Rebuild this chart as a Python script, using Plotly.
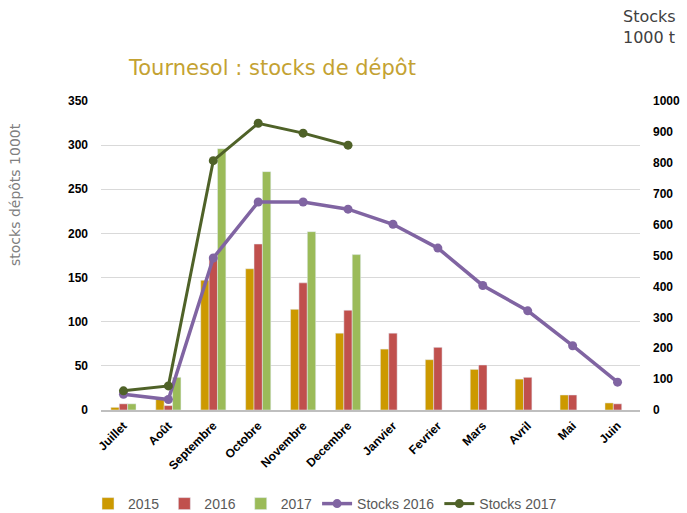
import plotly.graph_objects as go

months = ["Juillet", "Août", "Septembre", "Octobre", "Novembre", "Decembre",
          "Janvier", "Fevrier", "Mars", "Avril", "Mai", "Juin"]
v2015 = [3, 12, 147, 160, 114, 87, 69, 57, 46, 35, 17, 8]
v2016 = [7, 5, 172, 188, 144, 113, 87, 71, 51, 37, 17, 7]
v2017 = [7, 37, 296, 270, 202, 176, None, None, None, None, None, None]
stocks2016 = [51, 34, 492, 673, 673, 650, 601, 524, 403, 321, 208, 90]
stocks2017 = [62, 78, 807, 928, 896, 857]

W, H = 687, 513
L, R, T, B = 101, 47, 101, 103
PW, PH = W - L - R, H - T - B


def px_x(x):
    return (x - L) / PW


def px_y(y):
    return (H - B - y) / PH


tick_font = dict(family="Liberation Sans, Arial", size=12, color="#000000", weight="bold")

fig = go.Figure()
fig.add_trace(go.Bar(x=months, y=v2015, name="2015", marker_color="#CC9900"))
fig.add_trace(go.Bar(x=months, y=v2016, name="2016", marker_color="#C0504D"))
fig.add_trace(go.Bar(x=months, y=v2017, name="2017", marker_color="#9BBB59"))
fig.add_trace(go.Scatter(x=months, y=stocks2016, name="Stocks 2016", yaxis="y2",
                         mode="lines+markers", line=dict(color="#8064A2", width=3.5),
                         marker=dict(size=9, color="#8064A2")))
fig.add_trace(go.Scatter(x=months[:len(stocks2017)], y=stocks2017, name="Stocks 2017", yaxis="y2",
                         mode="lines+markers", line=dict(color="#4F6228", width=3),
                         marker=dict(size=9, color="#4F6228")))

fig.update_layout(
    width=W, height=H,
    margin=dict(l=L, r=R, t=T, b=B, autoexpand=False),
    paper_bgcolor="white", plot_bgcolor="white",
    barmode="group", bargap=0.44, bargroupgap=0,
    showlegend=True,
    legend=dict(orientation="h", x=px_x(88), xanchor="left", y=px_y(504), yanchor="middle",
                font=dict(family="Liberation Sans, Arial", size=14, color="#595959"),
                itemwidth=30, tracegroupgap=0, bgcolor="rgba(0,0,0,0)"),
    xaxis=dict(tickangle=-45, tickfont=tick_font, showgrid=False, showline=True,
               linecolor="#BFBFBF", linewidth=2, ticks="", ticklabelstandoff=2,
               range=[-0.5, 11.5], autorange=False),
    yaxis=dict(range=[0, 350], dtick=50, tickfont=tick_font, showgrid=True,
               gridcolor="#D9D9D9", gridwidth=1, zeroline=False, showline=False,
               ticks="", ticklabelstandoff=12),
    yaxis2=dict(range=[0, 1000], dtick=100, overlaying="y", side="right",
                tickfont=tick_font, showgrid=False, zeroline=False, showline=False,
                ticks="", ticklabelstandoff=12),
    annotations=[
        dict(text="Tournesol : stocks de dépôt", x=px_x(126), y=px_y(68), xref="paper", yref="paper",
             xanchor="left", yanchor="middle", showarrow=False,
             font=dict(family="DejaVu Sans", size=21, color="#C4A232")),
        dict(text="stocks dépôts 1000t", textangle=-90, x=px_x(15), y=px_y(195),
             xref="paper", yref="paper", xanchor="center", yanchor="middle", showarrow=False,
             font=dict(family="DejaVu Sans", size=14, color="#808080")),
        dict(text="Stocks<br>1000 t", x=px_x(621), y=px_y(27), xref="paper", yref="paper",
             xanchor="left", yanchor="middle", align="left", showarrow=False,
             font=dict(family="DejaVu Sans", size=16, color="#404040")),
    ],
)

fig.write_html("out.html", config={"displayModeBar": False},
               post_script="document.body.style.margin='0';")
